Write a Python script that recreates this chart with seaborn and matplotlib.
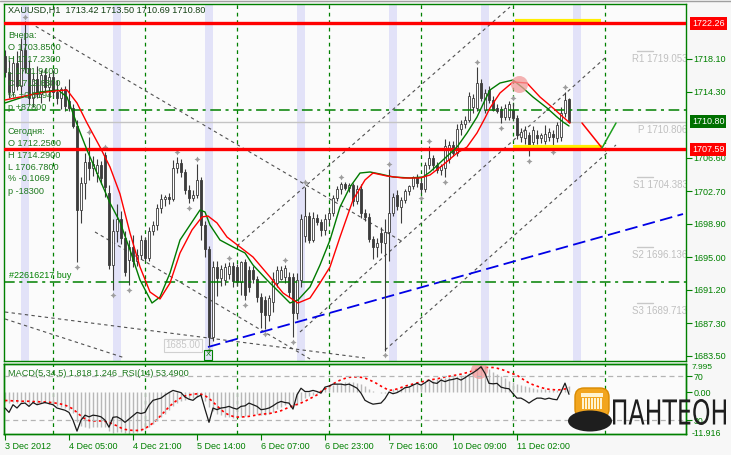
import numpy as np
import matplotlib
matplotlib.use("Agg")
import matplotlib.pyplot as plt
import seaborn as sns
from matplotlib.patches import FancyBboxPatch, Ellipse, Rectangle, PathPatch
from matplotlib.textpath import TextPath
from matplotlib.font_manager import FontProperties
from matplotlib.transforms import Affine2D, blended_transform_factory

sns.set_style("white")
plt.rcParams['font.family'] = ['Liberation Sans', 'DejaVu Sans']

# ---------------- data ----------------
opens = [1718.4, 1716.6, 1714.2, 1717.6, 1715.0, 1719.2, 1717.0, 1713.5, 1715.8, 1714.0,
         1716.2, 1714.8, 1716.0, 1714.3, 1713.5, 1714.6, 1713.2, 1712.4, 1710.3, 1700.5,
         1703.6, 1706.1, 1705.4, 1704.8, 1705.8, 1706.9, 1702.5, 1694.1, 1698.0, 1699.5,
         1697.2, 1694.7, 1696.2, 1694.6, 1695.2, 1697.0, 1694.9, 1698.0, 1698.7, 1700.7,
         1701.8, 1702.0, 1701.8, 1705.4, 1706.0, 1704.9, 1702.8, 1701.9, 1702.3, 1704.0,
         1698.7, 1695.9, 1685.7, 1693.9, 1692.6, 1692.3, 1693.0, 1694.0, 1693.8, 1692.1,
         1694.4, 1693.5, 1693.5, 1692.4, 1690.4, 1690.0, 1688.3, 1689.8, 1692.0, 1692.5,
         1692.7, 1692.7, 1692.7, 1688.5, 1692.3, 1697.5, 1699.8, 1697.0, 1699.6, 1699.1,
         1698.2, 1699.4, 1700.2, 1701.9, 1702.9, 1703.5, 1703.1, 1703.4, 1701.6, 1703.0,
         1700.2, 1699.7, 1697.1, 1696.2, 1697.8, 1696.7, 1697.9, 1700.2, 1702.2, 1700.9,
         1701.7, 1702.7, 1703.3, 1704.4, 1703.6, 1703.0, 1705.7, 1706.6, 1705.7, 1705.2,
         1705.4, 1706.5, 1708.1, 1707.2, 1709.9, 1710.5, 1711.0, 1712.5, 1712.4, 1715.3,
         1712.2, 1714.5, 1713.3, 1712.4, 1712.3, 1711.3, 1711.3, 1712.2, 1711.2, 1709.0,
         1708.9, 1709.2, 1708.4, 1709.2, 1708.9, 1708.6, 1709.0, 1709.3, 1708.9, 1709.0,
         1711.8, 1713.42]
highs = [1719.2, 1718.0, 1718.5, 1719.0, 1720.5, 1722.5, 1718.0, 1716.5, 1717.3, 1716.8,
         1717.0, 1716.5, 1716.8, 1715.6, 1714.8, 1715.0, 1715.8, 1712.8, 1711.0, 1704.3,
         1707.2, 1709.0, 1706.8, 1706.5, 1706.2, 1707.3, 1703.4, 1699.5, 1701.2, 1700.4,
         1698.0, 1697.0, 1697.6, 1696.0, 1697.6, 1697.4, 1698.5, 1699.2, 1701.2, 1702.4,
         1702.3, 1702.5, 1706.3, 1706.7, 1706.4, 1705.3, 1703.4, 1702.8, 1705.9, 1704.4,
         1699.2, 1696.3, 1694.6, 1694.6, 1694.1, 1694.3, 1694.4, 1694.4, 1694.2, 1694.6,
         1694.8, 1694.0, 1694.0, 1692.8, 1690.8, 1690.5, 1690.6, 1693.3, 1694.0, 1694.0,
         1694.1, 1693.3, 1693.2, 1693.2, 1700.0, 1703.2, 1700.3, 1700.3, 1700.0, 1699.4,
         1700.0, 1700.6, 1702.2, 1703.3, 1703.8, 1703.8, 1703.7, 1703.6, 1703.4, 1703.5,
         1700.6, 1700.2, 1697.5, 1697.2, 1698.5, 1699.5, 1705.3, 1702.5, 1702.8, 1702.0,
         1703.0, 1703.4, 1704.5, 1704.7, 1704.0, 1706.1, 1708.0, 1706.9, 1706.1, 1705.9,
         1708.8, 1708.6, 1708.5, 1710.5, 1711.0, 1711.5, 1714.3, 1714.0, 1717.2, 1715.8,
         1714.6, 1715.0, 1713.8, 1712.8, 1712.6, 1712.8, 1713.2, 1713.0, 1711.6, 1710.0,
         1710.3, 1709.6, 1710.3, 1709.8, 1709.5, 1710.4, 1710.1, 1709.8, 1710.8, 1712.5,
         1714.29, 1713.50]
lows = [1716.0, 1713.5, 1713.8, 1714.5, 1714.0, 1716.5, 1712.8, 1712.5, 1713.5, 1713.0,
        1714.2, 1713.2, 1713.8, 1712.8, 1712.3, 1712.0, 1712.0, 1710.0, 1694.4, 1699.0,
        1701.8, 1704.0, 1704.5, 1703.8, 1703.5, 1702.0, 1693.6, 1691.2, 1696.8, 1696.5,
        1692.8, 1691.7, 1693.8, 1694.0, 1694.8, 1694.5, 1694.6, 1697.6, 1698.2, 1700.2,
        1701.0, 1701.2, 1701.5, 1704.8, 1704.4, 1702.4, 1701.3, 1701.5, 1701.9, 1697.0,
        1695.0, 1684.7, 1685.2, 1690.5, 1691.6, 1691.8, 1692.5, 1691.5, 1691.6, 1690.6,
        1690.0, 1691.0, 1692.0, 1689.8, 1686.7, 1686.6, 1687.6, 1688.6, 1691.5, 1692.3,
        1692.0, 1690.4, 1685.7, 1687.8, 1691.5, 1696.8, 1696.6, 1696.8, 1698.8, 1697.5,
        1697.6, 1699.0, 1699.8, 1701.5, 1702.4, 1702.8, 1702.6, 1701.0, 1701.2, 1699.6,
        1699.2, 1696.8, 1694.8, 1695.0, 1695.5, 1684.1, 1694.5, 1699.8, 1700.5, 1699.0,
        1701.3, 1702.2, 1702.9, 1703.2, 1702.5, 1702.6, 1705.3, 1705.2, 1704.8, 1704.6,
        1704.35, 1706.0, 1706.8, 1706.8, 1709.2, 1710.0, 1710.7, 1711.8, 1712.0, 1713.2,
        1711.8, 1713.0, 1712.0, 1711.8, 1710.6, 1711.0, 1711.0, 1711.0, 1708.8, 1708.4,
        1708.2, 1706.78, 1708.0, 1708.2, 1708.3, 1708.2, 1708.5, 1707.8, 1708.4, 1708.6,
        1711.3, 1710.69]
closes = [1716.6, 1714.2, 1717.6, 1715.0, 1719.2, 1717.0, 1713.5, 1715.8, 1714.0, 1716.2,
          1714.8, 1716.0, 1714.3, 1713.5, 1714.6, 1712.6, 1712.4, 1710.3, 1700.5, 1703.6,
          1706.1, 1705.4, 1705.9, 1705.8, 1704.2, 1703.2, 1694.1, 1698.0, 1699.5, 1697.2,
          1693.3, 1696.2, 1694.6, 1695.2, 1697.0, 1694.9, 1698.0, 1698.7, 1700.7, 1701.8,
          1702.0, 1701.8, 1705.4, 1706.0, 1704.9, 1702.8, 1701.9, 1702.3, 1704.0, 1698.7,
          1695.9, 1685.7, 1693.9, 1692.6, 1693.6, 1693.8, 1694.0, 1692.2, 1692.1, 1694.4,
          1690.6, 1691.5, 1692.4, 1690.4, 1688.6, 1688.3, 1690.2, 1692.5, 1693.5, 1693.5,
          1693.7, 1690.9, 1688.5, 1692.3, 1699.4, 1699.8, 1697.0, 1699.6, 1699.1, 1698.2,
          1699.4, 1700.2, 1701.9, 1702.9, 1703.5, 1703.1, 1703.4, 1701.6, 1703.0, 1700.2,
          1699.7, 1697.1, 1696.2, 1696.6, 1696.8, 1697.9, 1700.2, 1702.0, 1701.0, 1701.7,
          1702.7, 1703.3, 1704.4, 1703.6, 1703.0, 1705.7, 1706.6, 1705.7, 1705.2, 1705.6,
          1708.0, 1708.1, 1707.2, 1709.9, 1710.5, 1711.0, 1713.8, 1713.5, 1715.3, 1713.6,
          1714.1, 1713.3, 1712.2, 1712.0, 1711.3, 1712.4, 1712.9, 1711.2, 1709.2, 1709.6,
          1709.8, 1707.7, 1709.8, 1708.9, 1709.2, 1709.4, 1709.6, 1709.0, 1710.4, 1711.8,
          1713.3, 1710.80]

up_fractals = [5, 21, 25, 43, 48, 56, 70, 75, 84, 96, 106, 118, 127, 140]
down_fractals = [18, 27, 31, 46, 51, 60, 65, 72, 95, 104, 110, 124, 131, 137]

green_bar = [0, 3.75, 8.75, 13.25, 15.5, 18.25, 20.5, 23.75, 26.25, 28.75, 31.25, 33.75, 36.75,
             38.75, 41.25, 43.75, 46.75, 48.75, 50, 51.25, 53.75, 57, 60, 62, 65.5, 68, 71.25,
             73.25, 76.25, 78.75, 81.25, 83.75, 86.25, 88.75, 91.25, 93.75, 97, 101.25, 104.5,
             106.25, 109.5, 113, 115.5, 118, 120, 121.25, 123.75, 127, 129.5, 132, 135.5, 138,
             139.5, 141]
green_val = [1712.97, 1713.55, 1714.25, 1714.49, 1713.67, 1710.17, 1707.49, 1704.00, 1701.32,
             1699.10, 1695.84, 1692.34, 1689.66, 1690.36, 1693.16, 1697.00, 1699.10, 1700.50,
             1700.27, 1698.75, 1697.00, 1696.19, 1695.49, 1694.09, 1692.34, 1691.18, 1689.66,
             1690.01, 1691.53, 1694.09, 1697.00, 1700.85, 1703.18, 1704.81, 1704.93, 1704.70,
             1704.35, 1704.23, 1704.35, 1704.93, 1706.33, 1707.84, 1709.48, 1711.34, 1713.32,
             1714.49, 1715.30, 1715.65, 1714.72, 1713.67, 1712.39, 1711.34, 1710.76, 1710.29]
red_bar = [0, 3.75, 8.75, 12.5, 15.5, 18, 20.5, 23.75, 26.25, 28.75, 31.25, 33.75, 36.25, 38.75,
           41.25, 43.75, 46.75, 49.25, 50.75, 53, 55.5, 58.75, 62, 66.25, 69.5, 73.25, 76.25,
           78.75, 81.25, 83.75, 87, 90, 92, 95.5, 99.5, 103.75, 106.25, 109.5, 113, 115.5, 118,
           120, 121.25, 123.75, 127, 130.5, 133.75, 137, 139.5, 141.25]
red_val = [1713.32, 1713.67, 1714.14, 1714.37, 1714.49, 1712.97, 1710.64, 1707.84, 1705.51,
           1702.37, 1697.82, 1693.86, 1690.94, 1690.13, 1691.99, 1695.49, 1698.17, 1699.69,
           1699.80, 1698.99, 1697.35, 1696.19, 1695.02, 1692.69, 1690.83, 1689.66, 1690.24,
           1691.99, 1693.86, 1697.35, 1701.67, 1704.00, 1704.81, 1704.46, 1704.23, 1704.23,
           1704.58, 1705.75, 1707.14, 1707.84, 1709.48, 1711.22, 1712.39, 1714.14, 1715.42,
           1715.30, 1713.67, 1712.39, 1711.34, 1710.64]
proj_red_bar = [144.25, 149.25]
proj_red_val = [1710.64, 1707.73]
proj_green_bar = [149.25, 152.75]
proj_green_val = [1707.73, 1710.64]

# trend channel lines (start bar, start price, end bar, end price)
chan_x0 = [6.25, 0, 0, 22.5, 58, 73.75, 95]
chan_p0 = [1722.30, 1688.61, 1687.80, 1697.94, 1696.31, 1686.28, 1684.18]
chan_x1 = [99.5, 90, 30, 76.25, 126.25, 150, 152.75]
chan_p1 = [1696.77, 1683.25, 1683.25, 1683.14, 1724.16, 1718.22, 1708.08]
blue_bar = [50.75, 169.5]
blue_val = [1684.53, 1700.03]

red_levels = [1722.26, 1707.59]
green_levels = [1712.15, 1692.10]
bid = 1710.80
pivot_names = ['R1', 'P', 'S1', 'S2', 'S3']
pivot_vals = [1719.053, 1710.806, 1704.383, 1696.136, 1689.713]
day_lines = [12, 35, 58, 81, 104, 127, 150]
band_centers = [5, 28, 51, 74, 97, 120, 143]
price_ticks = [1718.10, 1714.30, 1706.60, 1702.70, 1698.90, 1695.00, 1691.20, 1687.30, 1683.50]

time_ticks = [0, 16, 32, 48, 64, 80, 96, 112, 128]
time_labels = ['3 Dec 2012', '4 Dec 05:00', '4 Dec 21:00', '5 Dec 14:00', '6 Dec 07:00',
               '6 Dec 23:00', '7 Dec 16:00', '10 Dec 09:00', '11 Dec 02:00']

macd = [-2.8, -3.0, -2.9, -3.2, -3.1, -2.9, -3.3, -3.2, -3.3, -3.1, -3.2, -3.4, -3.6, -3.9, -4.2,
        -4.5, -5.0, -6.0, -8.4, -9.6, -10.0, -10.2, -10.0, -9.9, -9.8, -10.0, -11.0, -11.5, -11.4,
        -11.3, -11.7, -11.9, -11.7, -11.4, -11.0, -10.6, -10.0, -9.2, -8.3, -7.2, -6.1, -5.0,
        -3.9, -3.0, -2.5, -2.2, -1.9, -1.7, -1.3, -1.5, -2.4, -4.3, -5.4, -6.1, -6.6, -7.0, -7.2,
        -7.3, -7.2, -7.0, -6.8, -6.5, -6.2, -6.1, -6.4, -6.6, -6.2, -5.6, -4.9, -4.2, -3.7, -3.5,
        -4.1, -3.6, -2.6, -1.8, -1.2, -0.7, -0.2, 0.6, 1.2, 1.7, 2.1, 2.4, 2.7, 2.8, 2.9, 2.8, 2.7,
        2.2, 1.6, 1.0, 0.4, 0.0, -0.3, -0.2, 0.4, 0.8, 1.0, 1.2, 1.5, 1.7, 2.0, 2.2, 2.4, 2.8, 3.2,
        3.3, 3.6, 3.9, 4.1, 4.3, 4.4, 4.6, 4.8, 5.0, 5.3, 5.8, 6.8, 7.995, 7.4, 6.6, 5.8, 5.1, 4.5,
        3.9, 3.3, 2.8, 2.3, 1.9, 1.6, 1.4, 1.2, 1.0, 0.9, 0.8, 0.6, 0.5, 0.6, 0.9, 1.5, 1.818]
signal = [-2.4, -2.4, -2.5, -2.5, -2.6, -2.6, -2.6, -2.7, -2.7, -2.8, -2.8, -2.9, -3.0, -3.2, -3.4,
          -3.7, -4.2, -4.8, -5.8, -6.8, -7.6, -8.1, -8.2, -8.2, -8.2, -8.3, -8.6, -9.1, -9.6, -10.2,
          -10.6, -10.8, -10.9, -10.9, -10.8, -10.4, -9.6, -8.8, -7.8, -6.6, -5.4, -4.2, -3.2, -2.3,
          -1.6, -1.1, -0.8, -0.6, -0.5, -0.6, -1.0, -1.8, -2.8, -3.9, -5.0, -5.9, -6.5, -6.9, -7.1,
          -7.1, -7.0, -6.9, -6.7, -6.5, -6.3, -6.2, -6.1, -5.9, -5.6, -5.3, -4.8, -4.3, -3.9, -3.5,
          -3.1, -2.6, -2.0, -1.4, -0.8, 0.2, 0.9, 1.6, 2.3, 3.0, 3.5, 3.9, 4.2, 4.3, 4.3, 4.2, 4.0,
          3.5, 3.0, 2.4, 1.7, 1.1, 0.5, 0.6, 0.9, 1.3, 1.7, 2.0, 2.3, 2.6, 2.9, 3.1, 3.4, 3.6, 3.8,
          4.0, 4.3, 4.5, 4.7, 4.9, 5.1, 5.4, 5.7, 6.1, 6.5, 6.8, 7.0, 7.0, 7.0, 6.8, 6.5, 6.1, 5.6,
          5.2, 4.8, 4.0, 3.3, 2.6, 2.1, 1.7, 1.3, 1.0, 0.8, 0.7, 0.6, 0.7, 0.9, 1.246]
rsi = [41, 37, 44, 41, 45, 45.5, 42.5, 46, 44, 45, 46, 45, 44, 41, 40, 39, 37, 30, 20, 30,
       34.5, 33, 34.5, 34, 33, 30, 23.6, 32.6, 33, 31, 28, 31, 34, 37, 36, 37, 43.6, 48, 49, 50,
       52.7, 55, 57, 56, 55, 51, 49, 48, 51, 52.7, 40, 28, 41, 39.5, 41, 41.5, 42.5, 41, 40, 42.5,
       43, 45.5, 44, 42.5, 39.5, 40, 41, 43, 45.5, 47, 46, 45.5, 40, 53, 59, 56, 56, 57, 56, 54.5,
       60, 61, 62.7, 62.7, 62.7, 62, 62.7, 61, 59, 54.5, 48, 46, 44.5, 45, 45.5, 49.5, 55.5, 54,
       55, 57, 59.5, 60, 61.8, 63.4, 61.8, 64, 66.4, 64, 63.4, 66.4, 65, 66.4, 67, 68, 66.4, 68.5,
       71, 73, 75.5, 78.5, 72.5, 63.4, 63, 63.4, 60, 59, 58.5, 54, 50, 50, 48, 45.5, 48, 50, 50,
       49, 50, 49, 48.5, 55.5, 63.6, 53.49]

# ---------------- figure ----------------
W, H = 731, 455
GREEN = '#008000'
fig = plt.figure(figsize=(W / 100, H / 100), dpi=100, facecolor='#f7f7f7')
ax = fig.add_axes([4 / W, 1 - 361 / H, 682 / W, 357 / H], facecolor='#fbfbfb')
ax2 = fig.add_axes([4 / W, 1 - 434 / H, 682 / W, 70 / H], facecolor='#fbfbfb')

bars = np.arange(len(closes))
o = np.array(opens); h = np.array(highs); l = np.array(lows); c = np.array(closes)

ax.set_xlim(-0.25, 170.25)
ax.set_ylim(1682.90, 1724.51)

for b in band_centers:
    ax.axvspan(b - 1, b + 1, color='#e2e2f8', lw=0, zorder=0)
for d in day_lines:
    ax.axvline(d, color=GREEN, lw=0.9, ls=(0, (3, 3)), zorder=1)
    ax2.axvline(d, color=GREEN, lw=0.9, ls=(0, (3, 3)), zorder=1)

# channels and trend lines
for x0, p0, x1, p1 in zip(chan_x0, chan_p0, chan_x1, chan_p1):
    ax.plot([x0, x1], [p0, p1], color='#505050', lw=0.8, ls=(0, (3, 3)), zorder=2)
ax.plot(blue_bar, blue_val, color='#0000e6', lw=1.3, ls=(0, (7, 3)), zorder=3)

# levels
ax.axhline(bid, color='#c4c4c4', lw=1, zorder=2)
for lv in green_levels:
    ax.axhline(lv, color=GREEN, lw=1.1, ls=(0, (7, 3, 2, 3)), zorder=5)
ax.plot([127.5, 149], [red_levels[0] + 0.25] * 2, color='#ffee00', lw=3, zorder=5, solid_capstyle='butt')
ax.plot([127, 149.25], [red_levels[1] + 0.25] * 2, color='#ffee00', lw=3, zorder=5, solid_capstyle='butt')
for lv in red_levels:
    ax.axhline(lv, color='#ff0000', lw=2.4, zorder=6)

# pivot labels
for name, val in zip(pivot_names, pivot_vals):
    ax.plot([158, 162], [val, val], color='#c8c8c8', lw=1, zorder=2)
    ax.text(170.6, val - 0.35, f'{name} {val:.3f}', ha='right', va='top', fontsize=7,
            color='#c0c0c0', zorder=2, clip_on=True)

# candles
up = c >= o
ax.vlines(bars, l, h, color='#3c3c3c', lw=0.8, zorder=4)
body_lo = np.minimum(o, c)
body_h = np.maximum(np.abs(c - o), 0.06)
ax.bar(bars, body_h, bottom=body_lo, width=0.72, color=np.where(up, '#ffffff', '#3c3c3c'),
       edgecolor='#3c3c3c', linewidth=0.6, zorder=4)
ax.scatter(np.array(up_fractals), h[up_fractals] + 0.55, marker=(4, 1, 0), s=18, color='#9c9c9c', zorder=5, lw=0)
ax.scatter(np.array(down_fractals), l[down_fractals] - 0.55, marker=(4, 1, 0), s=18, color='#9c9c9c', zorder=5, lw=0)

# moving averages
sns.lineplot(x=green_bar, y=green_val, ax=ax, color='#007a00', lw=1, zorder=7)
sns.lineplot(x=red_bar, y=red_val, ax=ax, color='#ff0000', lw=1, zorder=7)
ax.plot(proj_red_bar, proj_red_val, color='#ff0000', lw=1.1, zorder=7)
ax.plot(proj_green_bar, proj_green_val, color='#20a020', lw=1.1, zorder=7)
ax.scatter([128.5], [1715.19], s=150, color='#f29a9a', alpha=0.75, lw=0, zorder=8)

ax.text(44.5, 1684.75, '1685.00', ha='center', va='center', fontsize=7, color='#c8c8c8', zorder=6,
        bbox=dict(boxstyle='square,pad=0.15', fc='none', ec='#d0d0d0', lw=0.8))
ax.text(50.75, 1683.6, 'X', ha='center', va='center', fontsize=5.5, color=GREEN, zorder=6,
        bbox=dict(boxstyle='square,pad=0.15', fc='none', ec=GREEN, lw=0.8))
ax.text(0.9, 1692.35, '#22616217 buy', ha='left', va='bottom', fontsize=6.5, color=GREEN, zorder=9)

# right price scale
ax.yaxis.tick_right()
ax.set_yticks(price_ticks)
ax.set_yticklabels([f'{p:.2f}' for p in price_ticks])
ax.set_xticks([])
ax.tick_params(axis='y', right=True, left=False, direction='out', length=4, width=0.8, color=GREEN,
               labelcolor=GREEN, labelsize=6.5, pad=1.5)
tr = blended_transform_factory(ax.transAxes, ax.transData)
for val, fc in [(red_levels[0], '#ff0000'), (bid, '#007000'), (red_levels[1], '#ff0000')]:
    ax.text(1.0088, val, f'{val:.2f}', transform=tr, ha='left', va='center', fontsize=6.5,
            color='white', zorder=12, clip_on=False,
            bbox=dict(boxstyle='square,pad=0.22', fc=fc, ec='none'))

# ---------------- sub window: MACD + RSI ----------------
ax2.set_xlim(-0.25, 170.25)
ax2.set_ylim(-11.916, 7.995)
ax2.vlines(bars, 0, macd, color='#b8b8b8', lw=1, zorder=2)
ax2.plot(bars, signal, color='#ff0000', lw=1.2, ls=(0, (1.5, 1.8)), zorder=3)
ax2.scatter([118.5], [6.26], s=150, color='#f29a9a', alpha=0.75, lw=0, zorder=6)

axr = ax2.twinx()
axr.set_ylim(17.4, 81.0)
axr.axhline(70, color='#b4b4b4', lw=0.9, ls=(0, (4, 3)), zorder=1)
axr.axhline(30, color='#b4b4b4', lw=0.9, ls=(0, (4, 3)), zorder=1)
sns.lineplot(x=bars, y=rsi, ax=axr, color='#1a1a1a', lw=0.9, zorder=4)
axr.set_xlabel('')
axr.set_ylabel('')
axr.set_yticks([70, 30])
axr.set_yticklabels(['70', '30'])
axr.tick_params(axis='y', right=True, direction='out', length=4, width=0.8, color=GREEN,
                labelcolor=GREEN, labelsize=6.3, pad=1.5)

ax2.yaxis.tick_right()
ax2.set_yticks([0])
ax2.set_yticklabels(['0.00'])
ax2.tick_params(axis='y', right=True, left=False, direction='out', length=4, width=0.8, color=GREEN,
                labelcolor=GREEN, labelsize=6.5, pad=1.5)
ax2.text(1.0088, 1.0, '7.995', transform=ax2.transAxes, ha='left', va='top', fontsize=6.0, color=GREEN)
ax2.text(1.0088, -0.05, '-11.916', transform=ax2.transAxes, ha='left', va='bottom', fontsize=6.3, color=GREEN)

ax2.set_xticks(time_ticks)
ax2.set_xticklabels(time_labels, ha='left')
ax2.tick_params(axis='x', bottom=True, direction='out', length=4, width=0.8, color=GREEN,
                labelcolor=GREEN, labelsize=6.5, pad=1.5)
ax2.set_ylabel('')

for a in (ax, ax2, axr):
    for s in a.spines.values():
        s.set_color(GREEN)
        s.set_linewidth(1)
    a.set_ylabel('')
    a.set_xlabel('')

# ---------------- texts ----------------
def ftext(x, y, s, **kw):
    fig.text(x / W, 1 - y / H, s, ha='left', va='center', fontsize=6.6, zorder=20, **kw)

ftext(8, 10, 'XAUUSD,H1  1713.42 1713.50 1710.69 1710.80', color='#144014')
info = ['Вчера:', 'O 1703.8500', 'H 1717.2300', 'L 1701.9400', 'C 1712.6300', '% +0.5194', 'p +87800']
for i, s in enumerate(info):
    ftext(8, 35 + 12 * i, s, color='#1f7a1f')
info2 = ['Сегодня:', 'O 1712.2500', 'H 1714.2900', 'L 1706.7800', '% -0.1069', 'p -18300']
for i, s in enumerate(info2):
    ftext(8, 131 + 12 * i, s, color='#1f7a1f')
ftext(8, 373, 'MACD(5,34,5) 1.818 1.246  RSI(14) 53.4900', color='#1f7a1f')

# ---------------- logo ----------------
ov = fig.add_axes([0, 0, 1, 1], facecolor='none', zorder=30)
ov.set_xlim(0, W)
ov.set_ylim(H, 0)
ov.axis('off')
ov.add_patch(FancyBboxPatch((575, 388), 34, 30, boxstyle='round,pad=0,rounding_size=9',
                            fc='#f2a51e', ec='#d98a00', lw=1))
ov.add_patch(Rectangle((581, 393), 22, 3.5, fc='#fff3d0', ec='none'))
for cx in range(582, 603, 3):
    ov.add_patch(Rectangle((cx, 398), 1.6, 11, fc='#fff3d0', ec='none'))
ov.add_patch(Ellipse((590, 421), 44, 21, fc='#1e1e1e', ec='none'))
tp = TextPath((0, 0), 'ПАНТЕОН', size=10, prop=FontProperties(family='DejaVu Sans'))
bb = tp.get_extents()
t = Affine2D().translate(-bb.x0, -bb.y0).scale(113 / bb.width, -26 / bb.height).translate(613, 425)
ov.add_patch(PathPatch(tp, transform=t + ov.transData, fc='#1e1e1e', ec='none'))
ov.plot([0, W], [0.5, 0.5], color='#a0a0a0', lw=1)

plt.savefig('out.png', dpi=100, facecolor=fig.get_facecolor())
